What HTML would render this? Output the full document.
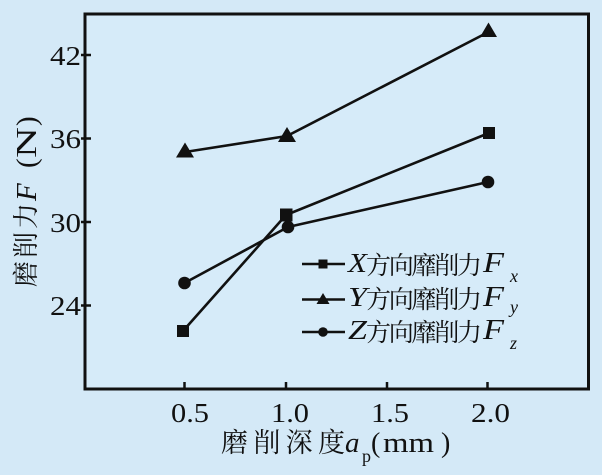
<!DOCTYPE html>
<html>
<head>
<meta charset="utf-8">
<style>
html,body{margin:0;padding:0;background:#d4e9f7;}
svg{display:block;}
.num{font-family:"Liberation Serif","Noto Serif CJK SC",serif;fill:#111;}
.cjk{font-family:"Liberation Serif","Noto Serif CJK SC","Noto Sans CJK SC",serif;fill:#111;}
.it{font-family:"Liberation Serif",serif;font-style:italic;fill:#111;}
</style>
</head>
<body>
<svg width="602" height="475" viewBox="0 0 602 475" xmlns="http://www.w3.org/2000/svg">
<rect x="0" y="0" width="602" height="475" fill="#d4e9f7"/>
<rect x="85" y="14" width="503.5" height="375" fill="#d6ebf9" stroke="#111" stroke-width="3"/>

<g stroke="#111" stroke-width="2.5">
<line x1="81" y1="55" x2="91" y2="55"/>
<line x1="81" y1="138.5" x2="91" y2="138.5"/>
<line x1="81" y1="222" x2="91" y2="222"/>
<line x1="81" y1="305.5" x2="91" y2="305.5"/>
<line x1="184.5" y1="382" x2="184.5" y2="389"/>
<line x1="286" y1="382" x2="286" y2="389"/>
<line x1="387" y1="382" x2="387" y2="389"/>
<line x1="487.5" y1="382" x2="487.5" y2="389"/>
</g>

<text class="num" style="font-size:27px" x="50" y="65" textLength="31" lengthAdjust="spacingAndGlyphs">42</text>
<text class="num" style="font-size:27px" x="50" y="148" textLength="31" lengthAdjust="spacingAndGlyphs">36</text>
<text class="num" style="font-size:27px" x="50" y="232" textLength="31" lengthAdjust="spacingAndGlyphs">30</text>
<text class="num" style="font-size:27px" x="50" y="315" textLength="31" lengthAdjust="spacingAndGlyphs">24</text>

<text class="num" style="font-size:27px" x="171" y="422" textLength="38" lengthAdjust="spacingAndGlyphs">0.5</text>
<text class="num" style="font-size:27px" x="271" y="422" textLength="38" lengthAdjust="spacingAndGlyphs">1.0</text>
<text class="num" style="font-size:27px" x="371" y="422" textLength="38" lengthAdjust="spacingAndGlyphs">1.5</text>
<text class="num" style="font-size:27px" x="471" y="422" textLength="39" lengthAdjust="spacingAndGlyphs">2.0</text>

<!-- x axis label -->
<text class="cjk" style="font-size:27px" x="221" y="452" textLength="124" lengthAdjust="spacing">磨削深度</text>
<text class="it" style="font-size:29px" x="345" y="452">a</text>
<text class="num" style="font-size:18px" x="362" y="462">p</text>
<text class="num" style="font-size:28px" x="371" y="452">(</text>
<text class="num" style="font-size:28px" x="383" y="452" textLength="51" lengthAdjust="spacingAndGlyphs">mm</text>
<text class="num" style="font-size:28px" x="441" y="452">)</text>

<!-- y axis label -->
<g transform="translate(36,287) rotate(-90)">
<text class="cjk" style="font-size:26px" x="0" y="-1" textLength="84" lengthAdjust="spacing">磨削力</text>
<text class="it" style="font-size:29px" x="86" y="0">F</text>
<text class="num" style="font-size:29px" x="119" y="0">(</text>
<text class="num" style="font-size:29px" x="129" y="0" textLength="31" lengthAdjust="spacingAndGlyphs">N</text>
<text class="num" style="font-size:29px" x="161" y="0">)</text>
</g>

<g fill="none" stroke="#111" stroke-width="2.6" stroke-linejoin="round">
<polyline points="183,331 286,215 489,133"/>
<polyline points="185,152 287,136 488.5,32"/>
<polyline points="184.5,283 288,227 488,182"/>
</g>

<g fill="#111">
<rect x="177" y="325" width="12" height="12"/>
<rect x="280" y="208.5" width="12.5" height="13"/>
<rect x="483" y="127" width="12" height="12"/>
<polygon points="185,142.5 176,157.5 194,157.5"/>
<polygon points="287,127 278,142 296,142"/>
<polygon points="488.5,22.5 480,37 497,37"/>
<circle cx="184.5" cy="283" r="6.3"/>
<circle cx="288" cy="227" r="6.3"/>
<circle cx="488" cy="182" r="6.3"/>
</g>

<g stroke="#111" stroke-width="2.6">
<line x1="302" y1="264" x2="345" y2="264"/>
<line x1="302" y1="299.5" x2="345" y2="299.5"/>
<line x1="302" y1="332" x2="345" y2="332"/>
</g>
<g fill="#111">
<rect x="318.5" y="259.5" width="9" height="9"/>
<polygon points="323,293 316.5,304 329.5,304"/>
<circle cx="323" cy="332" r="4.8"/>
</g>

<text class="it" style="font-size:27px" x="348" y="272" textLength="19" lengthAdjust="spacingAndGlyphs">X</text>
<text class="cjk" style="font-size:25px" x="366" y="274" textLength="116" lengthAdjust="spacing">方向靡削力</text>
<text class="it" style="font-size:28px" x="483" y="272" textLength="21" lengthAdjust="spacingAndGlyphs">F</text>
<text class="it" style="font-size:18px" x="510" y="282">x</text>

<text class="it" style="font-size:27px" x="348" y="306" textLength="19" lengthAdjust="spacingAndGlyphs">Y</text>
<text class="cjk" style="font-size:25px" x="366" y="308" textLength="116" lengthAdjust="spacing">方向靡削力</text>
<text class="it" style="font-size:28px" x="483" y="306" textLength="21" lengthAdjust="spacingAndGlyphs">F</text>
<text class="it" style="font-size:18px" x="510" y="313">y</text>

<text class="it" style="font-size:27px" x="348" y="339" textLength="19" lengthAdjust="spacingAndGlyphs">Z</text>
<text class="cjk" style="font-size:25px" x="366" y="341" textLength="116" lengthAdjust="spacing">方向靡削力</text>
<text class="it" style="font-size:28px" x="483" y="339" textLength="21" lengthAdjust="spacingAndGlyphs">F</text>
<text class="it" style="font-size:18px" x="510" y="349">z</text>
</svg>
</body>
</html>
